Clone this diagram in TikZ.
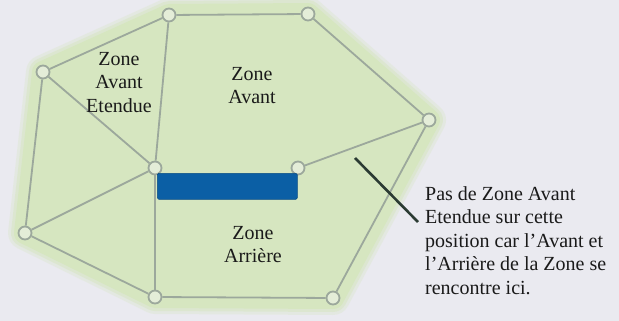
\documentclass[tikz,border=0pt]{standalone}
\usepackage{fontspec}
\setmainfont{Liberation Serif}
\definecolor{bg}{HTML}{EAEAF0}
\definecolor{zonegreen}{HTML}{D6E6C0}
\definecolor{edgegray}{HTML}{9CA89C}
\definecolor{vfill}{HTML}{E4EDD8}
\definecolor{barblue}{HTML}{0B5FA5}
\definecolor{pointer}{HTML}{2B3B33}
\definecolor{txt}{HTML}{1A1A1A}
\begin{document}
\begin{tikzpicture}[x=1pt,y=-1pt,
  vertex/.style={circle, draw=edgegray, fill=vfill, line width=1.8pt, minimum size=13pt, inner sep=0pt},
  edge/.style={draw=edgegray, line width=1.8pt},
  lbl/.style={font=\fontsize{20}{23.5}\selectfont, text=txt, inner sep=0pt}]
\fill[bg] (0,0) rectangle (619,321);
\useasboundingbox (0,0) rectangle (619,321);
% zone area
\coordinate (hA) at (169,15);
\coordinate (hB) at (308,14);
\coordinate (hC) at (429,120);
\coordinate (hD) at (333,298);
\coordinate (hE) at (155,297);
\coordinate (hF) at (25,233);
\coordinate (hG) at (43,72);
\draw[zonegreen, opacity=0.3, line width=34pt, line join=round, fill=zonegreen] (hA)--(hB)--(hC)--(hD)--(hE)--(hF)--(hG)--cycle;
\draw[zonegreen, opacity=0.5, line width=28pt, line join=round] (hA)--(hB)--(hC)--(hD)--(hE)--(hF)--(hG)--cycle;
\draw[zonegreen, line width=22pt, line join=round, fill=zonegreen] (hA)--(hB)--(hC)--(hD)--(hE)--(hF)--(hG)--cycle;
% vertices
\node[vertex] (A) at (169,15) {};
\node[vertex] (B) at (308,14) {};
\node[vertex] (C) at (429,120) {};
\node[vertex] (D) at (333,298) {};
\node[vertex] (E) at (155,297) {};
\node[vertex] (F) at (25,233) {};
\node[vertex] (G) at (43,72) {};
\node[vertex] (H) at (155,168) {};
\node[vertex] (I) at (298,168) {};
% edges
\foreach \u/\v in {G/A, A/B, B/C, C/D, D/E, E/F, F/G, G/H, A/H, H/F, H/E, I/C}
  \draw[edge] (\u) -- (\v);
% bar
\node[draw=barblue!80!black, line width=0.6pt, fill=barblue, rounded corners=1.5pt, minimum width=140pt, minimum height=26pt, inner sep=0pt, anchor=north west] (bar) at (157,173) {};
% labels
\node[lbl, align=center, anchor=north] (lAE) at (119,52) {Zone\\Avant\\Etendue};
\node[lbl, align=center, anchor=north] (lAv) at (252,67) {Zone\\Avant};
\node[lbl, align=center, anchor=north] (lAr) at (253,226) {Zone\\Arrière};
\node[lbl, align=left, anchor=north west] (note) at (425,186) {Pas de Zone Avant\\Etendue sur cette\\position car l’Avant et\\l’Arrière de la Zone se\\rencontre ici.};
% pointer
\coordinate (p1) at (355,158);
\coordinate (p2) at (418,222);
\draw[pointer, line width=2.6pt] (p1) -- (p2);
\end{tikzpicture}
\end{document}
